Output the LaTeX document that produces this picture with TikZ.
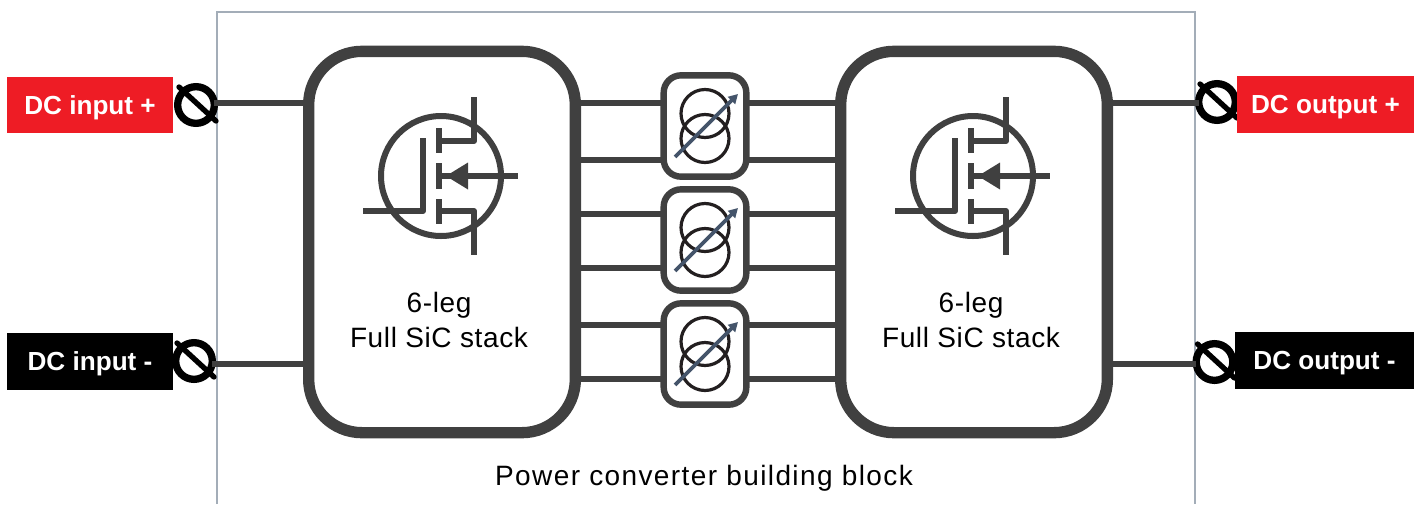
\documentclass[tikz,border=0pt]{standalone}
\usepackage{fontspec}
\setmainfont{Liberation Sans}
\newfontfamily\capfont[LetterSpace=5.0]{Liberation Sans}
\newfontfamily\stackfont[LetterSpace=2.2]{Liberation Sans}
\usetikzlibrary{arrows.meta,calc}
\definecolor{wire}{HTML}{404040}
\definecolor{framec}{HTML}{A3ADB8}
\definecolor{redlab}{HTML}{EE1C25}
\definecolor{arrowc}{HTML}{44546A}
\definecolor{ringc}{HTML}{231F20}
\tikzset{
  x=0.75pt,y=-0.75pt,
  wireline/.style={draw=wire,line width=5pt},
  stackbox/.style={draw=wire,line width=8.5pt,rounded corners=40pt,minimum width=200pt,minimum height=286pt,outer sep=0pt,fill=white},
  xfbox/.style={draw=wire,line width=4.8pt,rounded corners=13pt,minimum width=62pt,minimum height=76pt,outer sep=0pt,fill=white},
  ring/.style={draw=ringc,line width=2.4pt},
  tune/.style={draw=arrowc,line width=2.8pt,-{Triangle[length=7pt,width=7.5pt]}},
  fetline/.style={draw=wire,line width=4.5pt,line join=round},
  terminal/.style={draw=black,line width=5.5pt,circle,minimum size=27.5pt,inner sep=0pt,outer sep=0pt,fill=none},
  slash/.style={draw=black,line width=4pt,line cap=round},
  lab/.style={font=\fontsize{19.6pt}{22pt}\selectfont\bfseries,text=white,inner sep=0pt,minimum height=42.5pt,text height=14pt,text depth=0pt},
  stacktext/.style={font=\fontsize{21pt}{26pt}\selectfont\stackfont,align=center,inner sep=0pt},
}
\newcommand{\fet}[2]{%
  \begin{scope}[shift={(#1,#2)}]
    \draw[fetline] (0,0) circle[radius=60];
    \draw[fetline] (-78,35) -- (-18,35) -- (-18,-38);
    \draw[fetline] (-2,-48) -- (-2,-23);
    \draw[fetline] (-2,-13) -- (-2,13);
    \draw[fetline] (-2,23) -- (-2,48);
    \draw[fetline] (-2,-35) -- (33,-35) -- (33,-79);
    \draw[fetline] (-2,35) -- (33,35) -- (33,79);
    \draw[fetline] (-2,0) -- (77,0);
    \fill[wire] (5,0) -- (27,-13.5) -- (27,13.5) -- cycle;
  \end{scope}}
\newcommand{\xform}[2]{%
  \draw[ring] (#1,#2-12.5) circle[radius=24];
  \draw[ring] (#1,#2+12.5) circle[radius=24];
  \draw[tune] (#1-30,#2+31) -- (#1+33,#2-32);}
\begin{document}
\begin{tikzpicture}
\useasboundingbox (0,0) rectangle (1419,504);
\draw[framec,line width=1.9pt] (217,504) -- (217,12) -- (1195,12) -- (1195,504);
\coordinate (w1) at (0,103);
\coordinate (w2) at (0,160);
\coordinate (w3) at (0,214);
\coordinate (w4) at (0,268);
\coordinate (w5) at (0,325);
\coordinate (w6) at (0,379);
\node[stackbox] (sl) at (442,242) {};
\node[stackbox] (sr) at (974,242) {};
\node[xfbox] (x1) at (705,126) {};
\node[xfbox] (x2) at (705,240) {};
\node[xfbox] (x3) at (705,354) {};
\foreach \w/\b in {w1/x1,w2/x1,w3/x2,w4/x2,w5/x3,w6/x3}{
  \draw[wireline] (sl.east |- \w) -- (\b.west |- \w);
  \draw[wireline] (\b.east |- \w) -- (sr.west |- \w);
}
\xform{705}{126}
\xform{705}{240}
\xform{705}{354}
\fet{441}{176}
\fet{973}{176}
\node[stacktext] (tl) at (439,320) {6-leg\\Full SiC stack};
\node[stacktext] (tr) at (971,320) {6-leg\\Full SiC stack};
\node[terminal] (ta) at (196,105) {};
\node[terminal] (tb) at (194,361) {};
\node[terminal] (tc) at (1217,102) {};
\node[terminal] (td) at (1214.5,362) {};
\draw[wireline] (ta.east |- 0,103) -- (sl.west |- 0,103);
\draw[wireline] (tb.east |- 0,364) -- (sl.west |- 0,364);
\draw[wireline] (sr.east |- 0,103) -- (tc.west |- 0,103);
\draw[wireline] (sr.east |- 0,364) -- (td.west |- 0,364);
\foreach \t in {ta,tb,tc,td}{
  \draw[slash] ($(\t)+(-17,-18)$) -- ($(\t)+(20,16)$);
}
\node[lab,fill=redlab,minimum width=124.5pt] (la) at (90,105) {DC input +};
\node[lab,fill=black,minimum width=124.5pt] (lb) at (90,361.5) {DC input -};
\node[lab,fill=redlab,minimum width=132.75pt] (lc) at (1325.5,104.5) {DC output +};
\node[lab,fill=black,minimum width=134.25pt] (ld) at (1324.5,360.5) {DC output -};
\node[font=\fontsize{21pt}{24pt}\selectfont\capfont,inner sep=0pt] (cap) at (704,478) {Power converter building block};
\end{tikzpicture}
\end{document}
